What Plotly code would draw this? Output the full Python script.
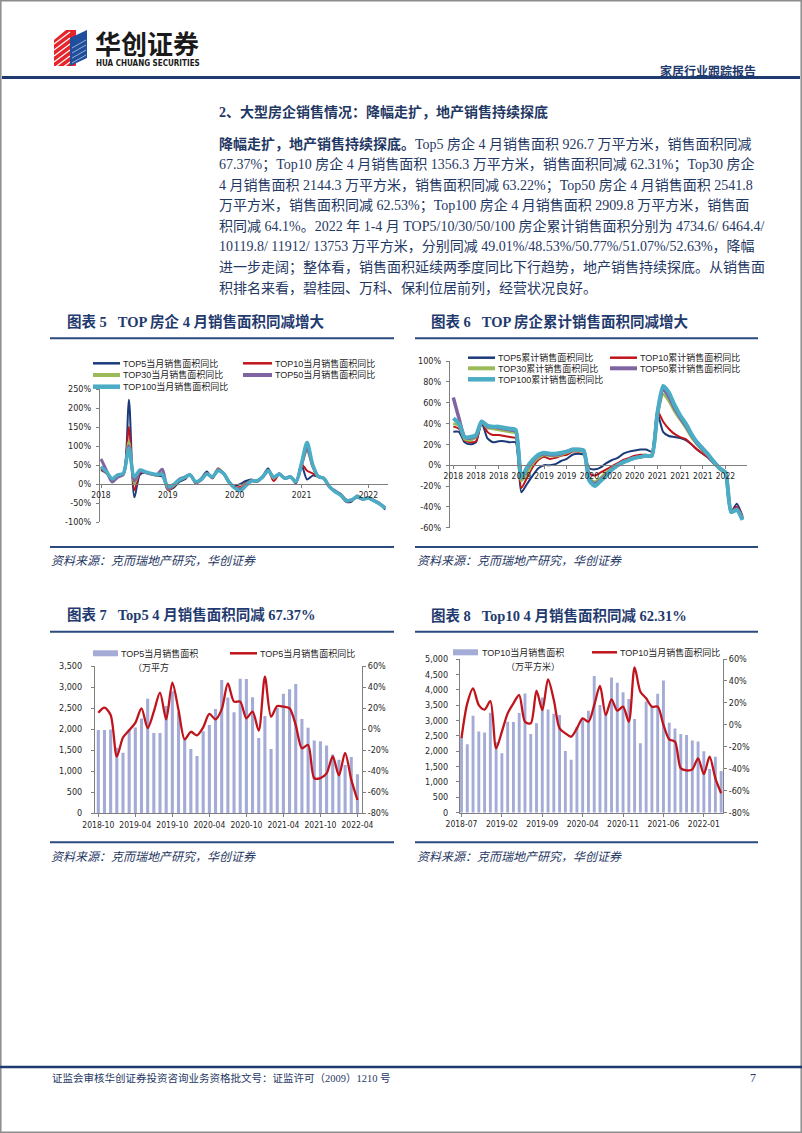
import plotly.graph_objects as go
import pandas as pd

W, H = 802, 1133


def px(x):
    return x / W


def py(y):
    return 1 - y / H


# ---------------------------------------------------------------- data
# Chart 5: monthly YoY of sales area, Jan-2018 .. Apr-2022
c5_months = pd.date_range("2018-01-01", periods=52, freq="MS").strftime("%Y-%m").tolist()
c5_tick_months = ["2018-01", "2019-01", "2020-01", "2021-01", "2022-01"]
c5_tick_labels = ["2018", "2019", "2020", "2021", "2022"]
top5_month_yoy = [37, 28, 12, 20, 26, 222, -35, 25, 30, 28, 22, 20, -14, -10, 5, 12, 24, 2, 15, 33,
                  15, 41, 28, 2, -5, 0, 8, 12, 6, 20, 41, 15, 28, 15, 19, 2, 50, 12, 22, 20,
                  15, -7, -20, -29, -47, -46, -30, -40, -35, -44, -50, -67.37]
top10_month_yoy = [40, 28, 12, 20, 24, 150, -16, 30, 30, 26, 22, 25, -16, -8, 8, 15, 24, 2, 10, 28,
                   15, 40, 28, 3, -8, -8, 2, 10, 6, 18, 36, 8, 25, 15, 19, 3, 52, 35, 28, 18,
                   15, -7, -20, -29, -46, -44, -32, -40, -36, -42, -50, -62.31]
top30_month_yoy = [45, 30, 12, 22, 25, 112, 2, 33, 30, 26, 22, 28, -14, -5, 10, 16, 24, 4, 12, 28,
                   17, 38, 28, 5, -10, -12, 0, 8, 8, 18, 36, 15, 26, 15, 19, 6, 50, 88, 45, 19,
                   15, -7, -18, -26, -42, -42, -34, -40, -37, -44, -52, -63.22]
top50_month_yoy = [66, 35, 5, 18, 25, 100, 8, 33, 30, 26, 24, 39, -12, -3, 12, 18, 24, 5, 12, 28,
                   18, 36, 28, 5, -10, -14, -2, 8, 8, 18, 35, 18, 26, 15, 19, 6, 50, 95, 48, 20,
                   15, -7, -18, -27, -42, -42, -35, -40, -37, -44, -52, -62.53]
top100_month_yoy = [45, 32, 14, 24, 28, 94, 19, 37, 32, 28, 25, 25, -7, -2, 10, 17, 24, 6, 12, 26,
                    19, 35, 28, 5, -10, -18, -5, 8, 8, 18, 35, 18, 26, 15, 19, 6, 55, 109, 52, 20,
                    15, -7, -20, -29, -44, -42, -33, -40, -37, -44, -52, -64.1]
c5_yticks = [-100, -50, 0, 50, 100, 150, 200, 250]

# Chart 6: cumulative YoY of sales area, Jan-2018 .. Apr-2022
c6_months = pd.date_range("2018-01-01", periods=52, freq="MS").strftime("%Y-%m").tolist()
c6_tick_months = c6_months[::4]
c6_tick_labels = [m[:4] for m in c6_tick_months]
top5_cum_yoy = [32, 32, 22, 20, 22, 41, 26, 22, 23, 23, 22, 22, -26, -18, -10, -3, 0, 0, 1, 4,
                6, 10, 11, 10, -3, -4, -2, 2, 5, 7, 11, 13, 14, 15, 15, 13, 50, 32, 28, 27,
                26, 24, 20, 15, 11, 7, 1, -4, -8, -45, -37, -49.01]
top10_cum_yoy = [37, 35, 24, 22, 23, 42, 32, 29, 29, 28, 27, 26, -22, -12, -2, 5, 8, 6, 7, 9,
                 10, 13, 13, 13, -8, -10, -7, -4, -1, 2, 5, 7, 9, 10, 10, 10, 52, 42, 35, 30,
                 27, 25, 20, 15, 11, 7, 2, -4, -9, -44, -40, -48.53]
top30_cum_yoy = [40, 38, 25, 24, 27, 42, 36, 35, 34, 33, 32, 31, -15, -8, 2, 7, 10, 9, 9, 10,
                 12, 14, 14, 13, -13, -16, -12, -7, -3, 0, 3, 5, 7, 8, 9, 10, 48, 68, 62, 52,
                 44, 36, 27, 20, 14, 9, 2, -4, -8, -45, -42, -50.77]
top50_cum_yoy = [65, 45, 27, 26, 28, 42, 37, 37, 36, 35, 34, 33, -12, -3, 4, 9, 11, 10, 10, 11,
                 13, 15, 15, 14, -14, -18, -14, -9, -4, 0, 3, 5, 7, 8, 9, 9, 50, 72, 66, 55,
                 46, 38, 29, 21, 15, 9, 3, -3, -7, -45, -42, -51.07]
top100_cum_yoy = [45, 40, 27, 27, 29, 42, 38, 37, 37, 36, 35, 34, -12, -2, 5, 10, 12, 11, 11, 12,
                  13, 15, 15, 14, -15, -20, -15, -10, -4, 0, 3, 5, 7, 8, 9, 9, 50, 76, 70, 58,
                  48, 40, 30, 22, 16, 10, 3, -3, -7, -45, -43, -52.63]
c6_yticks = [-60, -40, -20, 0, 20, 40, 60, 80, 100]

# Chart 7: TOP5 monthly sales area (10k m2) and YoY, Oct-2018 .. Apr-2022
c7_months = pd.date_range("2018-10-01", periods=43, freq="MS").strftime("%Y-%m").tolist()
c7_tick_months = c7_months[::6]
top5_area = [1980, 1980, 1990, 1560, 1440, 1990, 2040, 2250, 2720, 1910, 1910, 2550, 2900, 2400,
             1750, 1530, 1360, 1950, 2100, 2480, 3170, 2750, 2400, 3200, 3190, 2760, 1790, 2310,
             1530, 2500, 2840, 2950, 3070, 2240, 2030, 1730, 1710, 1610, 1400, 1270, 1150, 1340,
             926.7]
top5_area_yoy = [15.6, 20.4, 13.4, -26, -8, -1, 6, 19.8, 1, 16.6, 34.7, 9.3, 44.1, 18.2, -9.7,
                 -2.5, -5.9, 1.7, 14.4, 9.3, 18.8, 43.5, 26.1, 26.1, 10.3, 16.6, -1.5, 49.8, 11.8,
                 22, 21.3, 19.8, 3.9, -18.2, -15.1, -46.7, -46.5, -42, -26, -44, -22.5, -48, -67.37]

# Chart 8: TOP10 monthly sales area (10k m2) and YoY, Jul-2018 .. Apr-2022
c8_months = pd.date_range("2018-07-01", periods=46, freq="MS").strftime("%Y-%m").tolist()
c8_tick_months = c8_months[::7]
top10_area = [2450, 2230, 3150, 2640, 2610, 3250, 2300, 1930, 2960, 2950, 3240, 3880, 2560, 2910,
              3750, 3360, 3220, 3180, 2010, 1720, 2800, 3070, 3320, 4450, 3500, 3250, 4400, 4230,
              3920, 3700, 3050, 2260, 3620, 3450, 3870, 4300, 2930, 2740, 2560, 2530, 2350, 2320,
              2000, 1420, 1820, 1356.3]
top10_area_yoy = [-12, 19.6, 33.3, 18, 14, 21.7, -21.4, -6.2, 10.5, 19.6, 27.2, 2.9, 1.4, 31.2,
                  13.5, 41.5, 22.6, -3.2, -7.7, -10.8, -3.2, 5.9, 2.9, 18, 35.4, 9, 23.3, 12.9,
                  16.6, 2.9, 52.4, 30.2, 24.2, 16.6, 16.6, -0.1, -13.2, -15.3, -39.6, -41.5, -40.5,
                  -30.5, -44.8, -29, -48.7, -62.31]
yoy_ticks = [-80, -60, -40, -20, 0, 20, 40, 60]

series_names_m = ["TOP5当月销售面积同比", "TOP10当月销售面积同比", "TOP30当月销售面积同比",
                  "TOP50当月销售面积同比", "TOP100当月销售面积同比"]
series_names_c = ["TOP5累计销售面积同比", "TOP10累计销售面积同比", "TOP30累计销售面积同比",
                  "TOP50累计销售面积同比", "TOP100累计销售面积同比"]

# ---------------------------------------------------------------- styles
NAVY = "#1F3A6E"
TXT = "#1F3864"
RULE = "#2B4A7E"
AX = "#7F7F7F"
TICK_FAMILY = "Liberation Sans Narrow, DejaVu Sans Condensed, Liberation Sans, sans-serif"
Y_TICK_FONT = dict(family=TICK_FAMILY, size=9, color="#262626")
X_TICK_FONT = dict(family=TICK_FAMILY, size=8.5, color="#262626")
SERIF = "Liberation Serif, Noto Sans CJK SC, serif"
line_colors = ["#1B3A7A", "#C0141C", "#9BBB59", "#8064A2", "#4BACC6"]
m_widths = [2, 2, 2.5, 3, 3.5]
c_widths = [2, 2, 3, 3.5, 4]
BAR_COLOR = "#A3ABD6"
RED = "#C0141C"


def pct(vals):
    return [f"{v}%" for v in vals]


fig = go.Figure()


def rng(a, b, x0, step):
    return [(a - x0) / step, (b - x0) / step]


# chart 5
for name, vals, col, w in zip(series_names_m,
                              [top5_month_yoy, top10_month_yoy, top30_month_yoy, top50_month_yoy, top100_month_yoy],
                              line_colors, m_widths):
    fig.add_trace(go.Scatter(x=c5_months, y=vals, name=name, mode="lines",
                             line=dict(color=col, width=w, shape="spline", smoothing=0.8),
                             xaxis="x", yaxis="y"))
# chart 6
for name, vals, col, w in zip(series_names_c,
                              [top5_cum_yoy, top10_cum_yoy, top30_cum_yoy, top50_cum_yoy, top100_cum_yoy],
                              line_colors, c_widths):
    fig.add_trace(go.Scatter(x=c6_months, y=vals, name=name, mode="lines",
                             line=dict(color=col, width=w, shape="spline", smoothing=0.6),
                             xaxis="x2", yaxis="y2"))
# chart 7
fig.add_trace(go.Bar(x=c7_months, y=top5_area, name="TOP5当月销售面积（万平方米）",
                     marker=dict(color=BAR_COLOR, line=dict(width=0)), width=0.5,
                     xaxis="x3", yaxis="y3"))
fig.add_trace(go.Scatter(x=c7_months, y=top5_area_yoy, name="TOP5当月销售面积同比", mode="lines",
                         line=dict(color=RED, width=2.3, shape="spline", smoothing=0.8),
                         xaxis="x3", yaxis="y4"))
# chart 8
fig.add_trace(go.Bar(x=c8_months, y=top10_area, name="TOP10当月销售面积（万平方米）",
                     marker=dict(color=BAR_COLOR, line=dict(width=0)), width=0.5,
                     xaxis="x4", yaxis="y5"))
fig.add_trace(go.Scatter(x=c8_months, y=top10_area_yoy, name="TOP10当月销售面积同比", mode="lines",
                         line=dict(color=RED, width=2.3, shape="spline", smoothing=0.8),
                         xaxis="x4", yaxis="y6"))

axis_common = dict(showgrid=False, zeroline=False, showline=True, linecolor=AX, linewidth=1,
                   ticks="outside", ticklen=3, tickcolor=AX,
                   automargin=False, tickangle=0, fixedrange=True)
xa = dict(axis_common, tickfont=X_TICK_FONT)
ya = dict(axis_common, tickfont=Y_TICK_FONT)

layout = dict(
    width=W, height=H, autosize=False, margin=dict(l=0, r=0, t=0, b=0, pad=0, autoexpand=False),
    paper_bgcolor="white", plot_bgcolor="rgba(0,0,0,0)", showlegend=False,
    # chart 5
    xaxis=dict(xa, type="category", domain=[px(100), px(388)],
               range=rng(100, 388, 101, 5.57), anchor="free", position=py(484),
               tickmode="array", tickvals=c5_tick_months, ticktext=c5_tick_labels),
    yaxis=dict(ya, domain=[py(522), py(389)], range=[-100, 250], anchor="x",
               tickmode="array", tickvals=c5_yticks, ticktext=pct(c5_yticks), ticklabelstandoff=3),
    # chart 6
    xaxis2=dict(xa, type="category", domain=[px(450), px(747)],
                range=rng(450, 747, 453.3, 5.67), anchor="free", position=py(465),
                tickmode="array", tickvals=c6_tick_months, ticktext=c6_tick_labels),
    yaxis2=dict(ya, domain=[py(527.7), py(361)], range=[-60, 100], anchor="x2",
                tickmode="array", tickvals=c6_yticks, ticktext=pct(c6_yticks), ticklabelstandoff=3),
    # chart 7
    xaxis3=dict(xa, type="category", domain=[px(95), px(362)],
                range=rng(95, 362, 98.3, 6.17), anchor="y3",
                tickmode="array", tickvals=c7_tick_months, ticktext=c7_tick_months),
    yaxis3=dict(ya, domain=[py(813.3), py(666)], range=[0, 3500], anchor="x3",
                tickvals=list(range(0, 3501, 500)), tickformat=",", ticklabelstandoff=7),
    yaxis4=dict(ya, overlaying="y3", side="right", anchor="x3", range=[-80, 60],
                tickmode="array", tickvals=yoy_ticks, ticktext=pct(yoy_ticks)),
    # chart 8
    xaxis4=dict(xa, type="category", domain=[px(460), px(723)],
                range=rng(460, 723, 461.5, 5.77), anchor="y5",
                tickmode="array", tickvals=c8_tick_months, ticktext=c8_tick_months),
    yaxis5=dict(ya, domain=[py(812.7), py(659)], range=[0, 5000], anchor="x4",
                tickvals=list(range(0, 5001, 500)), tickformat=",", ticklabelstandoff=6),
    yaxis6=dict(ya, overlaying="y5", side="right", anchor="x4", range=[-80, 60],
                tickmode="array", tickvals=yoy_ticks, ticktext=pct(yoy_ticks)),
)

shapes = []
annotations = []


def hline(x0, x1, y, color, width):
    shapes.append(dict(type="line", xref="paper", yref="paper", x0=px(x0), x1=px(x1),
                       y0=py(y), y1=py(y), line=dict(color=color, width=width)))


def rect(x0, y0, x1, y1, fill):
    shapes.append(dict(type="rect", xref="paper", yref="paper", x0=px(x0), x1=px(x1),
                       y0=py(y1), y1=py(y0), fillcolor=fill, line=dict(width=0)))


def poly(points, fill):
    path = "M " + " L ".join(f"{px(x)},{py(y)}" for x, y in points) + " Z"
    shapes.append(dict(type="path", xref="paper", yref="paper", path=path,
                       fillcolor=fill, line=dict(width=0)))


def text(x, y, s, size, color, family, xanchor="left", bold=False, italic=False):
    if bold:
        s = f"<b>{s}</b>"
    if italic:
        s = f"<i>{s}</i>"
    annotations.append(dict(xref="paper", yref="paper", x=px(x), y=py(y), text=s,
                            showarrow=False, xanchor=xanchor, yanchor="middle",
                            borderpad=0, font=dict(size=size, color=color, family=family)))


# page frame
shapes.append(dict(type="rect", xref="paper", yref="paper", x0=px(0.8), x1=px(801.2),
                   y0=py(1132.2), y1=py(0.8), line=dict(color="#8C8C8C", width=1.5),
                   fillcolor="rgba(0,0,0,0)"))

# logo
poly([(54, 40), (66, 30), (76, 30), (76, 66), (54, 66)], "#E3262B")
for k in range(6):
    yy = 32 + k * 6
    shapes.append(dict(type="line", xref="paper", yref="paper", x0=px(54), y0=py(yy + 12),
                       x1=px(70), y1=py(yy), line=dict(color="white", width=1.2)))
poly([(70, 38), (87, 30), (87, 58), (70, 66)], "#1F4E9C")
for k in range(5):
    yy = 40 + k * 5
    shapes.append(dict(type="line", xref="paper", yref="paper", x0=px(72), y0=py(yy + 8),
                       x1=px(86), y1=py(yy), line=dict(color="rgba(255,255,255,0.55)", width=1)))
text(94, 42, "华创证券", 26, "#1A1A1A", "Noto Sans CJK SC", bold=True)
text(95, 63.5, "HUA CHUANG SECURITIES", 8, "#1A1A1A",
     "Liberation Sans Narrow, DejaVu Sans Condensed, Liberation Sans, sans-serif", bold=True)
text(757, 71, "家居行业跟踪报告", 12, NAVY, SERIF, xanchor="right", bold=True)
hline(2, 800, 77.5, NAVY, 3)

# section heading and body text
text(218, 112, "2、大型房企销售情况：降幅走扩，地产销售持续探底", 14, TXT, SERIF, bold=True)
body_lines = [
    "<b>降幅走扩，地产销售持续探底。</b>Top5 房企 4 月销售面积 926.7 万平方米，销售面积同减",
    "67.37%；Top10 房企 4 月销售面积 1356.3 万平方米，销售面积同减 62.31%；Top30 房企",
    "4 月销售面积 2144.3 万平方米，销售面积同减 63.22%；Top50 房企 4 月销售面积 2541.8",
    "万平方米，销售面积同减 62.53%；Top100 房企 4 月销售面积 2909.8 万平方米，销售面",
    "积同减 64.1%。2022 年 1-4 月 TOP5/10/30/50/100 房企累计销售面积分别为 4734.6/ 6464.4/",
    "10119.8/ 11912/ 13753 万平方米，分别同减 49.01%/48.53%/50.77%/51.07%/52.63%，降幅",
    "进一步走阔；整体看，销售面积延续两季度同比下行趋势，地产销售持续探底。从销售面",
    "积排名来看，碧桂园、万科、保利位居前列，经营状况良好。",
]
for i, ln in enumerate(body_lines):
    text(218, 144 + 20.6 * i, ln, 14, TXT, SERIF)

# chart titles + rules
SP = "\u00a0\u00a0\u00a0"
text(66, 321.7, f"图表 5{SP}TOP 房企 4 月销售面积同减增大", 14.5, NAVY, SERIF, bold=True)
text(430, 321.7, f"图表 6{SP}TOP 房企累计销售面积同减增大", 14.5, NAVY, SERIF, bold=True)
text(66, 614, f"图表 7{SP}Top5 4 月销售面积同减 67.37%", 14.5, NAVY, SERIF, bold=True)
text(430, 615, f"图表 8{SP}Top10 4 月销售面积同减 62.31%", 14.5, NAVY, SERIF, bold=True)
for y in (338.3, 631.7):
    hline(50, 394, y, RULE, 2)
    hline(415, 758, y, RULE, 2)
# source rules + text
for y_rule, y_txt in ((547, 561.5), (842.3, 856.7)):
    hline(50, 394, y_rule, RULE, 2)
    hline(415, 758, y_rule, RULE, 2)
    text(50, y_txt, "资料来源：克而瑞地产研究，华创证券", 12, TXT, SERIF, italic=True)
    text(416, y_txt, "资料来源：克而瑞地产研究，华创证券", 12, TXT, SERIF, italic=True)

# footer
hline(0, 802, 1067, NAVY, 2.5)
text(51, 1078, "证监会审核华创证券投资咨询业务资格批文号：证监许可（2009）1210 号", 10.5, TXT, SERIF)
text(757, 1078, "7", 12, TXT, SERIF, xanchor="right")

# manual legends
LEG_FONT = "Liberation Sans, Noto Sans CJK SC, sans-serif"
leg_w = [2.5, 2.5, 4, 4, 4.5]
c5_slots = [(93, 120, 121.5, 363.3), (243, 272, 273.5, 363.3), (93, 120, 121.5, 375),
            (243, 272, 273.5, 375), (93, 120, 121.5, 386.7)]
for (x0, x1, xt, y), name, col, w in zip(c5_slots, series_names_m, line_colors, leg_w):
    hline(x0, x1, y, col, w)
    text(xt, y, name, 9, "#262626", LEG_FONT)
c6_slots = [(468, 495, 497, 357.7), (610, 637, 639, 357.7), (468, 495, 497, 368.3),
            (610, 637, 639, 368.3), (468, 495, 497, 379.3)]
for (x0, x1, xt, y), name, col, w in zip(c6_slots, series_names_c, line_colors, leg_w):
    hline(x0, x1, y, col, w)
    text(xt, y, name, 9, "#262626", LEG_FONT)

rect(93, 650.3, 118, 656.3, BAR_COLOR)
text(120, 653.3, "TOP5当月销售面积", 9, "#262626", LEG_FONT)
text(131.7, 667, "（万平方", 9, "#262626", LEG_FONT)
hline(230, 257, 653.3, RED, 2.5)
text(258.5, 653.3, "TOP5当月销售面积同比", 9, "#262626", LEG_FONT)

rect(453, 649.3, 478, 655.3, BAR_COLOR)
text(480.7, 652.3, "TOP10当月销售面积", 9, "#262626", LEG_FONT)
text(533, 666, "（万平方米）", 9, "#262626", LEG_FONT, xanchor="center")
hline(592, 617, 652.3, RED, 2.5)
text(618.5, 652.3, "TOP10当月销售面积同比", 9, "#262626", LEG_FONT)

layout["shapes"] = shapes
layout["annotations"] = annotations
fig.update_layout(**layout)
fig.write_html(
    "out.html",
    config={"displayModeBar": False, "staticPlot": True},
    post_script="document.body.style.margin='0px';document.body.style.padding='0px';"
                "document.body.style.overflow='hidden';",
)
